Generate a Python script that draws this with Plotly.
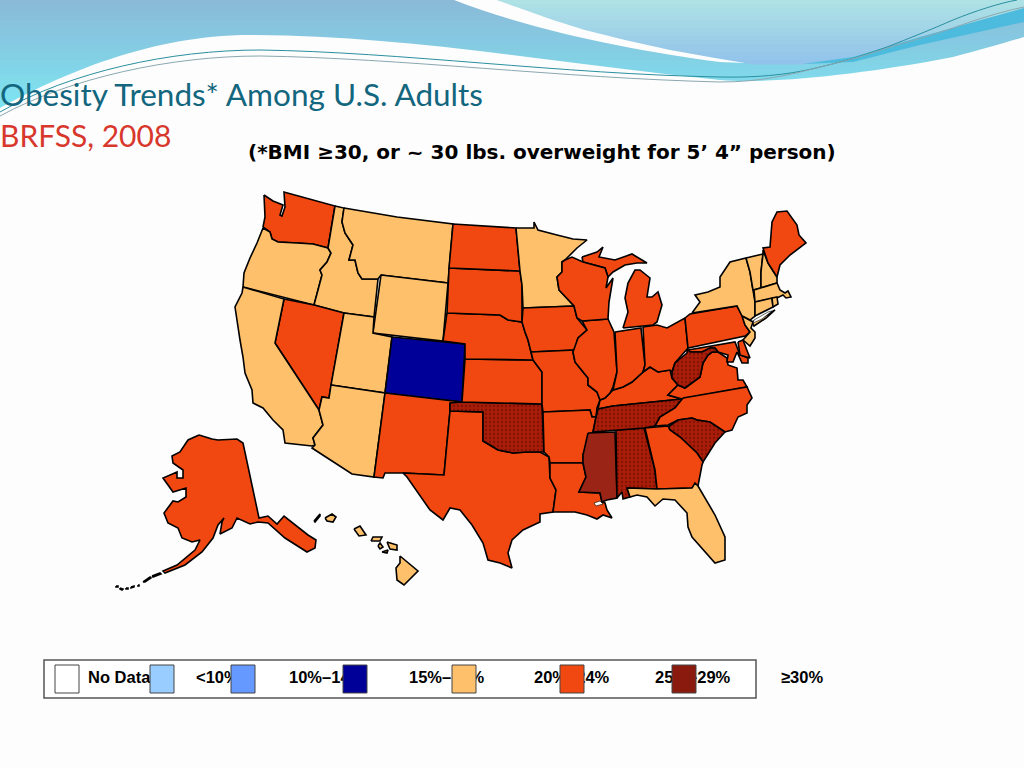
import numpy as np
import plotly.graph_objects as go

# rate classes
class_15_19 = ['OR', 'ID', 'MT', 'WY', 'CA', 'UT', 'AZ', 'MN', 'FL', 'NY', 'VT', 'NH', 'MA', 'CT', 'RI', 'NJ', 'HI']
class_10_14 = ['CO']
class_20_24 = ['WA', 'NV', 'NM', 'TX', 'ND', 'SD', 'NE', 'KS', 'IA', 'MO', 'AR', 'LA', 'WI', 'IL', 'IN', 'MI', 'OH',
               'KY', 'GA', 'NC', 'VA', 'PA', 'MD', 'DE', 'ME', 'AK']
class_25_29 = ['MS']
class_30_up = ['OK', 'TN', 'AL', 'SC', 'WV']

legend_labels = ['No Data', '<10%', '10%–14%', '15%–19%', '20%–24%', '25%–29%', '≥30%']
swatch_colors = ['#FFFFFF', '#99CCFF', '#6699FF', '#000099', '#FFC06C', '#F04810', '#8B1A0E']

# state outlines, picture pixels
WA = [(264,195),(273,201),(283,205),(280,215),(282,216),(285,207),(284,192),(310,199),(335,206),(328,248),(313,244),(297,243),(278,242),(272,239),(270,232),(263,227),(265,217)]
OR = [(263,228),(270,232),(272,239),(278,242),(297,243),(313,244),(328,248),(331,253),(327,262),(320,270),(322,275),(314,305),(243,287),(244,273),(250,258),(257,243)]
ID = [(335,206),(344,208),(342,222),(345,233),(353,245),(349,260),(355,260),(358,273),(362,279),(378,279),(374,317),(344,313),(314,305),(322,275),(320,270),(327,262),(331,253),(328,248)]
MT = [(344,208),(397,217),(453,224),(449,268),(448,283),(381,275),(378,279),(362,279),(358,273),(355,260),(349,260),(353,245),(345,233),(342,222)]
WY = [(381,275),(448,283),(443,341),(373,333)]
NV = [(284,299),(314,305),(344,313),(331,385),(329,398),(322,397),(319,410),(275,343)]
UT = [(344,313),(374,317),(373,333),(392,337),(385,393),(331,385)]
CO = [(392,337),(465,344),(462,402),(385,393)]
AZ = [(331,385),(385,393),(374,477),(352,474),(312,448),(315,445),(313,438),(323,425),(319,410),(322,397),(329,398)]
CA = [(243,287),(284,299),(275,343),(319,410),(323,425),(313,438),(315,445),(312,446),(285,443),(283,430),(273,420),(263,408),(253,403),(252,390),(245,373),(243,357),(240,340),(237,320),(235,307),(242,293)]
NM = [(385,393),(462,402),(450,403),(450,411),(444,475),(403,473),(385,473),(383,478),(374,477)]
TX = [(450,411),(483,412),(483,441),(490,445),(498,450),(513,453),(527,452),(540,452),(549,457),(550,478),(556,490),(553,512),(540,514),(540,522),(523,530),(512,540),(508,553),(512,568),(500,563),(488,560),(483,543),(472,525),(460,510),(450,508),(443,520),(430,510),(423,500),(407,477),(403,473),(444,475)]
OK = [(450,403),(462,402),(542,404),(544,452),(540,452),(527,452),(513,453),(498,450),(490,445),(483,441),(483,412),(450,411)]
KS = [(465,359),(533,360),(542,372),(542,404),(462,402)]
NE = [(447,313),(500,315),(508,320),(522,322),(525,332),(528,340),(533,360),(465,359),(465,344),(443,341)]
SD = [(449,268),(520,271),(522,285),(522,322),(508,320),(500,315),(447,313),(448,283)]
ND = [(453,224),(516,228),(520,271),(449,268)]
MN = [(516,228),(534,228),(534,222),(538,230),(557,235),(573,239),(587,240),(577,248),(565,260),(562,262),(562,272),(557,277),(559,290),(574,306),(523,308),(522,285),(520,271)]
IA = [(523,308),(574,306),(577,318),(587,330),(578,338),(575,350),(531,352),(528,340),(525,332),(522,322)]
MO = [(531,352),(575,350),(573,352),(575,362),(583,372),(588,378),(588,385),(597,392),(600,400),(597,408),(596,417),(592,417),(590,410),(543,412),(542,404),(542,372),(533,360)]
AR = [(543,412),(590,410),(592,417),(596,417),(593,432),(587,443),(583,455),(583,463),(550,463),(549,457),(544,452)]
LA = [(550,463),(583,463),(586,477),(579,492),(600,493),(602,502),(605,503),(607,510),(612,518),(603,515),(597,519),(587,515),(575,512),(553,512),(556,490),(550,478)]
MS = [(588,433),(615,432),(617,498),(607,500),(602,502),(600,493),(579,492),(586,477),(583,463),(583,455)]
AL = [(616,430),(644,428),(655,470),(657,489),(627,488),(630,497),(623,499),(622,492),(617,498)]
TN = [(598,409),(613,406),(682,399),(675,408),(660,417),(655,426),(644,428),(616,430),(593,432),(596,417)]
KY = [(600,400),(605,398),(610,393),(613,390),(623,387),(632,382),(643,372),(650,367),(658,372),(670,370),(672,378),(678,385),(668,395),(682,399),(613,406),(598,409)]
IL = [(582,321),(608,319),(614,332),(617,372),(613,387),(610,393),(605,398),(600,400),(597,392),(588,385),(588,378),(583,372),(575,362),(573,352),(578,338),(587,330)]
IN = [(615,332),(641,328),(645,365),(643,372),(632,382),(623,387),(613,390),(617,372)]
OH = [(643,327),(657,325),(667,328),(680,321),(685,318),(688,348),(675,363),(672,372),(670,370),(658,372),(650,367),(643,372),(645,365)]
MI_LOWER = [(623,328),(653,325),(657,322),(662,305),(658,292),(652,297),(647,297),(650,278),(640,270),(635,270),(628,283),(625,298),(628,312)]
MI_UPPER = [(582,257),(597,252),(603,247),(599,257),(615,260),(632,254),(647,263),(637,263),(625,265),(613,272),(608,277),(605,268),(583,262)]
WI = [(565,260),(572,257),(583,262),(605,268),(608,277),(606,288),(613,278),(609,302),(608,319),(582,321),(577,318),(574,306),(559,290),(557,277),(562,272),(562,262)]
PA = [(685,318),(690,314),(737,306),(742,315),(745,325),(750,332),(745,336),(688,348)]
NJ = [(742,316),(753,322),(751,328),(755,332),(755,338),(750,346),(743,340),(747,335),(750,332),(745,325)]
NY = [(692,313),(700,302),(695,295),(708,292),(720,287),(720,277),(730,262),(746,258),(750,272),(753,290),(755,302),(755,316),(750,320),(742,316),(737,306)]
LONG_ISLAND = [(752,322),(765,316),(775,310),(766,318),(754,326)]
VT = [(746,258),(763,254),(761,272),(761,288),(753,290),(750,272)]
NH = [(763,250),(768,263),(777,277),(777,283),(761,288),(761,272),(763,254)]
ME = [(768,263),(763,248),(770,247),(772,222),(777,212),(787,211),(797,225),(799,235),(806,243),(790,255),(780,265),(777,277)]
MA = [(754,290),(777,283),(780,290),(785,293),(788,291),(791,297),(786,298),(783,295),(777,298),(755,302)]
CT = [(755,302),(772,298),(773,307),(755,316)]
RI = [(772,298),(777,297),(778,304),(773,307)]
MD = [(688,350),(735,342),(740,355),(748,358),(748,363),(742,363),(737,352),(733,362),(727,362),(728,355),(718,352),(715,348),(710,348),(702,352),(690,352)]
DE = [(738,342),(743,340),(748,353),(750,358),(740,355)]
WV = [(687,349),(690,352),(702,352),(710,348),(715,348),(718,352),(712,352),(708,355),(703,363),(700,377),(685,388),(678,385),(672,378),(672,372),(675,363),(687,353)]
VA = [(682,399),(747,387),(743,380),(738,380),(737,368),(728,365),(727,358),(718,352),(712,352),(708,355),(703,363),(700,377),(685,388),(678,385),(668,395)]
NC = [(683,398),(747,387),(752,398),(747,405),(747,413),(738,417),(732,430),(725,432),(710,422),(697,420),(692,418),(678,420),(668,425),(655,426),(660,417),(675,408)]
SC = [(668,427),(678,420),(692,418),(697,420),(710,422),(725,432),(715,443),(707,455),(703,462),(697,453),(680,437),(670,430)]
GA = [(645,428),(668,426),(670,430),(680,437),(697,453),(703,462),(702,465),(698,486),(692,488),(657,489),(655,470)]
FL = [(627,488),(657,489),(692,488),(695,483),(698,486),(715,515),(725,537),(725,560),(715,563),(705,552),(692,537),(688,527),(687,513),(675,500),(663,499),(655,506),(647,497),(637,495),(630,497)]
AK = [(199,435),(212,439),(218,440),(237,439),(243,443),(259,518),(268,516),(277,524),(284,516),(308,535),(316,540),(315,548),(307,552),(285,538),(268,523),(258,522),(250,524),(237,518),(232,528),(220,534),(222,522),(224,518),(218,525),(213,538),(202,552),(185,565),(165,573),(163,571),(177,565),(195,550),(200,540),(192,542),(182,538),(178,528),(168,523),(164,513),(173,501),(178,502),(186,497),(186,488),(173,492),(167,483),(163,478),(177,472),(177,478),(183,478),(183,470),(173,463),(172,456),(180,452),(188,440)]
ALEUT_1 = [(143,582),(150,577),(151,578),(145,582)]
ALEUT_2 = [(152,576),(160,573),(161,574),(153,577)]
ALEUT_3 = [(116,586),(118,586),(118,587),(116,587)]
ALEUT_4 = [(120,588),(123,589),(122,590),(120,589)]
ALEUT_5 = [(126,588),(128,588),(128,589),(126,589)]
ALEUT_6 = [(131,587),(134,586),(134,587),(131,588)]
ALEUT_7 = [(138,585),(139,585),(139,586),(138,586)]
KAUAI = [(325,518),(332,514),(336,517),(333,522),(327,521)]
NIIHAU = [(314,521),(320,514),(320,516),(315,522)]
OAHU = [(354,529),(360,526),(366,535),(359,536)]
MOLOKAI = [(371,541),(373,537),(382,537),(380,541)]
LANAI = [(378,546),(380,543),(383,547),(380,549)]
MAUI = [(387,542),(397,545),(397,550),(390,549)]
KAHOOLAWE = [(382,552),(388,550),(387,553)]
BIG_ISLAND = [(400,556),(418,571),(404,585),(397,580),(396,568),(400,563)]
PONTCHARTRAIN = [(594,503),(600,501),(603,504),(596,506)]
LI_SOUND = [(754,320),(768,312),(772,311),(762,319),(753,323)]

state_parts = [
    ('WA', [WA]), ('OR', [OR]), ('ID', [ID]), ('MT', [MT]), ('WY', [WY]), ('NV', [NV]), ('UT', [UT]), ('CO', [CO]),
    ('CA', [CA]), ('AZ', [AZ]), ('NM', [NM]), ('TX', [TX]), ('OK', [OK]), ('KS', [KS]), ('NE', [NE]), ('SD', [SD]),
    ('ND', [ND]), ('MN', [MN]), ('IA', [IA]), ('MO', [MO]), ('AR', [AR]), ('LA', [LA]), ('MS', [MS]), ('AL', [AL]),
    ('KY', [KY]), ('TN', [TN]), ('IL', [IL]), ('IN', [IN]), ('OH', [OH]), ('MI', [MI_LOWER, MI_UPPER]), ('WI', [WI]),
    ('PA', [PA]), ('NY', [NY, LONG_ISLAND]), ('NJ', [NJ]), ('VT', [VT]), ('NH', [NH]), ('ME', [ME]), ('MA', [MA]),
    ('CT', [CT]), ('RI', [RI]), ('VA', [VA]), ('MD', [MD]), ('DE', [DE]), ('WV', [WV]), ('NC', [NC]), ('SC', [SC]),
    ('GA', [GA]), ('FL', [FL]), ('AK', [AK, ALEUT_1, ALEUT_2, ALEUT_3, ALEUT_4, ALEUT_5, ALEUT_6, ALEUT_7]),
    ('HI', [KAUAI, NIIHAU, OAHU, MOLOKAI, LANAI, MAUI, KAHOOLAWE, BIG_ISLAND]),
]


def state_style(state):
    if state in class_10_14:
        return dict(fillcolor=swatch_colors[3])
    if state in class_15_19:
        return dict(fillcolor=swatch_colors[4])
    if state in class_20_24:
        return dict(fillcolor=swatch_colors[5])
    if state in class_25_29:
        return dict(fillcolor='#9A2416')
    return dict(fillcolor='#A81C08', fillpattern=dict(shape='.', bgcolor='#A81C08', fgcolor='#5A0A00', size=4, solidity=0.25))


def polygon_xy(parts):
    xs, ys = [], []
    for part in parts:
        xs += [p[0] for p in part] + [part[0][0], None]
        ys += [p[1] for p in part] + [part[0][1], None]
    return xs, ys


def mix(c0, c1, t):
    a = [int(c0[i:i + 2], 16) for i in (1, 3, 5)]
    b = [int(c1[i:i + 2], 16) for i in (1, 3, 5)]
    return 'rgb(%d,%d,%d)' % tuple(round(u + (v - u) * t) for u, v in zip(a, b))


fig = go.Figure()

# legend text sits under the swatches, like in the slide
label_x = [88, 196, 289, 409, 534, 655, 781]
fig.add_trace(go.Scatter(
    x=label_x, y=[679] * 7, mode='text', text=legend_labels, textposition='middle right',
    textfont=dict(family='Liberation Sans', size=16.5, color='black'),
    texttemplate='<b>%{text}</b>', hoverinfo='skip', showlegend=False,
))

for state, parts in state_parts:
    xs, ys = polygon_xy(parts)
    fig.add_trace(go.Scatter(
        x=xs, y=ys, mode='lines', fill='toself', name=state,
        line=dict(color='black', width=1.6), showlegend=False, hoverinfo='name',
        **state_style(state),
    ))

for water in [PONTCHARTRAIN, LI_SOUND]:
    xs, ys = polygon_xy([water])
    fig.add_trace(go.Scatter(x=xs, y=ys, mode='lines', fill='toself', fillcolor='white',
                             line=dict(color='black', width=0.6), showlegend=False, hoverinfo='skip'))

# slide background: stepped gradient, then white swooshes over it
shapes = []
for i in range(24):
    shapes.append(dict(type='rect', layer='below', x0=0, x1=1024, y0=i * 5, y1=(i + 1) * 5 + 1,
                       fillcolor=mix('#8ABAD8', '#7CE9F4', i / 23), line_width=0))
shapes.append(dict(type='path', layer='below', fillcolor='#FDFDFD', line_width=0,
                   path='M0,108 C60,75 150,35 250,35 C400,35 550,62 720,80 C770,84 860,75 953,57 C980,50 1005,43 1024,37 L1024,768 L0,768 Z'))

# top right panel as thin strips so it can fade from turquoise to blue
panel_left_y = [0, 10, 20, 30, 40, 50, 58, 64]
panel_left_x = [497, 525, 553, 585, 625, 670, 715, 753]
panel_right_y = [8, 37, 57, 64]
panel_right_x = [1024, 920, 853, 803]
for i in range(16):
    y0, y1 = i * 4, (i + 1) * 4
    x_l0, x_l1 = np.interp([y0, y1], panel_left_y, panel_left_x)
    x_r0, x_r1 = np.interp([y0, y1], panel_right_y, panel_right_x)
    shapes.append(dict(type='path', layer='below', fillcolor=mix('#AEE2E5', '#92C3EA', i / 15), line_width=0,
                       path=f'M{x_l0:.1f},{y0} L{x_r0:.1f},{y0} L{x_r1:.1f},{y1 + 0.5} L{x_l1:.1f},{y1 + 0.5} Z'))

shapes += [
    dict(type='path', layer='below', fillcolor='#FDFDFD', line_width=0,
         path='M454,0 L497,0 L525,10 L553,20 L585,30 L625,40 L670,50 L715,58 L745,63 L720,62 C640,52 530,30 454,0 Z'),
    dict(type='path', layer='below', fillcolor='#4DBBDD', line_width=0,
         path='M803,64 L853,57 L920,37 L1024,8 L1024,22 L920,45 L853,62 Z'),
    dict(type='path', layer='below', line=dict(color='#2A8FA0', width=1),
         path='M0,112 C70,72 170,50 260,50 C400,52 560,74 720,77 C770,78 800,72 820,67 C850,60 870,53 887,47 C910,38 930,30 953,20 C975,11 1000,3 1017,0'),
    dict(type='path', layer='below', line=dict(color='#8AA8B0', width=1),
         path='M0,116 C70,78 170,56 260,56 C400,58 560,78 720,82 C760,82 790,75 820,67 C850,60 870,54 887,48 C910,41 930,36 953,28 C975,20 1000,12 1024,7'),
    dict(type='rect', layer='below', x0=44, x1=756, y0=660, y1=698, fillcolor='white', line=dict(color='#555555', width=1.5)),
]
swatch_x = [55, 150, 231, 343, 452, 560, 672]
for x0, c in zip(swatch_x, swatch_colors):
    shapes.append(dict(type='rect', layer='above', x0=x0, x1=x0 + 24, y0=665, y1=693, fillcolor=c, line=dict(color='#444444', width=1)))

annotations = [
    dict(x=0, xshift=-2, y=94, text='Obesity Trends* Among U.S. Adults', showarrow=False, xanchor='left', yanchor='middle',
         font=dict(family='Lato', size=31.5, color='#12667E')),
    dict(x=0, xshift=-2, y=135, text='BRFSS, 2008', showarrow=False, xanchor='left', yanchor='middle',
         font=dict(family='Lato', size=30, color='#D8382C')),
    dict(x=246, y=152, text='<b>(*BMI ≥30, or ~ 30 lbs. overweight for 5’ 4” person)</b>', showarrow=False, xanchor='left', yanchor='middle',
         font=dict(family='DejaVu Sans', size=20, color='black')),
]

fig.update_layout(
    width=1024, height=768, margin=dict(l=0, r=0, t=0, b=0),
    paper_bgcolor='#FDFDFD', plot_bgcolor='rgba(0,0,0,0)',
    xaxis=dict(range=[0, 1024], visible=False, fixedrange=True),
    yaxis=dict(range=[768, 0], visible=False, fixedrange=True),
    shapes=shapes, annotations=annotations, showlegend=False,
)

fig.write_html("out.html", config=dict(displayModeBar=False), post_script="document.body.style.margin='0';")
